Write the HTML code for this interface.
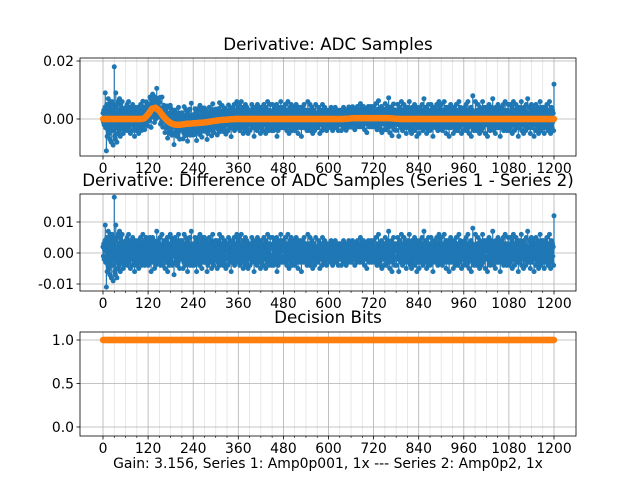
<!DOCTYPE html>
<html><head><meta charset="utf-8"><style>
body{margin:0;background:#fff}
svg{display:block;font-family:"DejaVu Sans","Liberation Sans",sans-serif}
</style></head><body>
<svg id="chart" width="640" height="480" viewBox="0 0 640 480" xmlns="http://www.w3.org/2000/svg">
<text x="328" y="50" font-size="16.7" text-anchor="middle">Derivative: ADC Samples</text>
<text x="328" y="186" font-size="16.7" text-anchor="middle">Derivative: Difference of ADC Samples (Series 1 - Series 2)</text>
<text x="328" y="323" font-size="16.7" text-anchor="middle">Decision Bits</text>
<text x="328" y="468" font-size="13.9" text-anchor="middle">Gain: 3.156, Series 1: Amp0p001, 1x --- Series 2: Amp0p2, 1x</text>
</svg>
<script>
// noise of ADC derivative (units 1e-3), one per sample
const noise = [
2,-1,3,-2,1,4,9,-3,2,-11,5,-6,3,-4,7,-2,-5,4,-7,6,-3,5,-8,2,6,-4,3,-9,5,-2,
18,-6,4,-7,9,-3,2,-8,5,-5,6,-2,3,-4,7,-3,-6,5,-2,4,-3,6,-1,3,-5,2,-4,3,-2,1,
-3,4,-2,1,5,-4,2,-3,6,-1,3,-2,4,-5,1,3,-2,2,-4,5,-1,3,-3,2,-6,4,-2,1,3,-4,
2,-3,4,-1,3,-5,2,4,-2,-3,5,-1,2,-4,3,-2,6,-3,1,-2,4,-4,2,-1,3,5,-3,-2,4,-1,
-4,3,-1,2,-3,5,-2,4,-6,1,3,-2,5,-3,2,-1,4,-5,2,3,-4,1,-2,7,-3,2,-1,4,-2,3,
3,-2,5,-4,1,-3,2,6,-1,-4,3,-2,4,-1,2,-5,3,1,-3,4,-2,5,-6,2,-1,3,-4,2,-3,6,
-2,5,-3,1,-4,2,3,-1,4,-7,2,-3,5,-1,3,-2,4,-4,1,2,-3,6,-2,3,-5,1,4,-2,3,-1,
4,-1,2,-5,3,-3,6,-2,1,-4,5,-2,3,-1,2,-6,4,-3,1,3,-2,5,-4,2,-1,7,-3,2,-4,1,
-1,3,-4,2,-2,5,-3,1,4,-6,2,-1,3,-3,5,-2,1,-4,6,-1,2,-3,4,-5,3,-2,1,5,-3,2,
5,-3,1,-2,4,-1,3,-6,2,-4,3,1,-2,5,-3,2,-1,4,-2,-5,3,-1,6,-3,2,-4,1,3,-2,4,
-2,4,-1,3,-5,2,-3,1,4,-2,6,-4,2,-1,3,-3,1,5,-2,2,-4,3,-1,-3,4,-2,2,-5,3,1,
3,-1,-4,2,5,-2,1,-3,4,-1,2,-6,3,-2,1,4,-3,2,-1,5,-4,1,3,-2,2,-3,6,-1,-2,4,
-3,2,5,-1,-4,3,-2,1,6,-3,2,-1,4,-5,2,-2,3,1,-4,5,-1,2,-3,4,-2,1,-5,3,-1,2,
1,-4,3,-2,2,-1,5,-3,-2,4,-1,3,-6,2,1,-3,4,-2,3,-1,-4,5,-2,2,-3,1,4,-1,3,-5,
4,-2,1,-3,3,-1,2,-4,5,-2,1,-1,3,-5,4,2,-2,-3,6,-1,2,-4,1,3,-2,5,-3,2,-1,-4,
-1,5,-2,3,-4,1,2,-3,4,-1,3,-2,5,-6,1,2,-4,3,-1,4,-3,2,-2,6,-1,-3,4,-2,1,3,
2,-3,4,-1,-2,5,-3,1,3,-4,2,-1,6,-2,3,-5,1,-1,4,-3,2,5,-2,-4,3,-1,2,-3,4,-2,
-4,2,-1,3,5,-2,1,-3,2,-5,4,-1,3,-2,1,4,-3,2,-6,3,-1,2,4,-2,-3,5,-1,3,-2,1,
3,-2,2,-4,1,6,-3,2,-1,3,-4,5,-2,1,-3,2,4,-1,-5,3,-2,1,3,-4,2,-1,5,-3,2,-2,
-1,2,-3,1,4,-2,3,-5,2,-1,3,-2,1,-4,5,-1,2,-3,3,-2,4,-1,-3,2,1,-4,3,-2,2,-1,
2,-1,3,-2,1,-3,2,4,-1,-2,3,-4,2,-1,3,-2,1,-3,4,-2,2,-1,-3,3,-1,2,-4,1,3,-2,
-2,3,-1,2,-4,1,3,-2,2,-1,4,-3,1,-2,3,-1,2,-4,1,3,-2,2,-1,-3,4,-2,1,3,-1,-2,
1,-3,2,-1,4,-2,3,-1,-2,2,-4,1,3,-2,1,-3,2,4,-1,-2,3,-1,2,-3,1,5,-2,-1,3,-2,
-3,2,-2,4,-1,1,-4,3,-2,2,-1,3,-5,1,2,-2,4,-1,3,-3,1,-2,2,4,-1,-3,2,-1,3,-2,
4,-2,1,-3,2,-1,5,-3,2,-4,1,3,-2,6,-1,-3,2,-4,3,1,-2,4,-5,2,-1,3,-2,1,-4,3,
-2,5,-1,3,-4,2,-3,1,4,-2,7,-3,1,-5,2,-1,3,-2,4,-6,1,2,-3,5,-1,3,-2,-4,2,1,
3,-4,2,-1,5,-2,1,-6,3,-2,4,-1,2,-3,6,-2,1,-4,3,-1,2,5,-3,-2,4,-1,3,-5,2,-1,
-1,4,-3,2,-2,6,-1,3,-4,1,2,-5,4,-2,1,3,-3,2,-1,5,-4,2,-2,3,1,-6,4,-1,2,-3,
2,-5,3,-1,4,-2,2,-3,1,5,-1,-4,3,-2,7,-1,2,-3,4,-2,1,-5,3,-1,2,-4,5,-2,1,-3,
-4,3,-2,5,-1,2,-3,4,-6,1,3,-2,2,-1,4,-3,1,-2,5,-1,3,-4,2,-2,6,-1,-3,4,-2,1,
5,-1,2,-4,3,-2,1,-3,6,-2,2,-1,4,-5,1,3,-2,4,-1,-3,2,-6,3,1,-2,5,-3,2,-1,4,
-2,3,-5,1,4,-1,2,-3,2,-4,5,-2,1,3,-1,-4,2,6,-3,1,-2,4,-1,3,-5,2,-2,1,3,-4,
1,-2,4,-3,2,-1,5,-4,3,-2,1,6,-3,2,-5,1,-1,3,-2,4,-6,2,-1,3,8,-3,2,-4,1,-2,
-3,6,-1,2,-4,3,-2,1,5,-3,2,-1,-5,4,-2,3,1,-4,2,-1,6,-3,2,-2,4,-1,3,-5,2,1,
4,-2,3,-6,1,-1,2,5,-3,2,-4,1,3,-2,4,-1,-3,7,-2,1,-4,3,-1,2,-5,4,-2,1,3,-3,
-1,5,-3,2,-2,4,-1,-6,3,1,-2,4,-3,2,-1,5,-4,3,-2,1,6,-1,-3,2,-4,3,-2,1,5,-1,
2,-4,1,-3,5,-2,3,-1,4,-5,2,-2,6,-1,3,-4,1,2,-3,5,-2,-1,4,-3,2,-6,3,1,-2,4,
-3,2,-1,6,-4,1,3,-2,2,-5,4,-1,3,-2,1,-4,5,-3,2,-1,7,-2,1,-3,4,-1,2,-5,3,-2,
5,-1,-3,2,4,-2,1,-6,3,-1,2,-4,5,-2,3,1,-3,4,-1,-5,2,3,-2,6,-1,-4,2,-3,4,1,
-2,4,-3,1,-5,3,2,-1,4,-2,-3,5,-1,2,-4,3,-2,1,6,-3,2,-5,1,4,-2,-3,3,-1,2,-4,
12
];
// slow orange series 2 derivative (units 1e-3), one value per 10 samples
const seriesTwo = [
0,0,0,0,0,0,0,0,0,0,0,0.2,1.6,3.5,3.9,2.8,1.0,-0.4,-1.4,-1.9,
-2.0,-1.9,-1.7,-1.6,-1.5,-1.4,-1.3,-1.2,-1.0,-0.8,-0.6,-0.4,-0.3,-0.2,-0.1,0,0,0,0,0,
0,0,0,0,0,0,0,0,0,0,0,0,0,0,0,0,0,0,0,0,
0,0,0,0,0,0.1,0.2,0.3,0.3,0.3,0.3,0.3,0.3,0.3,0.3,0.3,0.3,0.2,0.1,0,
0,0,0,0,0,0,0,0,0,0,0,0,0,0,0,0,0,0,0,0,
0,0,0,0,0,0,0,0,0,0,0,0,0,0,0,0,0,0,0,0,
0
];
// decision bits, one value per 10 samples
const bits = [
1,1,1,1,1,1,1,1,1,1,1,1,1,1,1,1,1,1,1,1,1,1,1,1,1,1,1,1,1,1,1,1,1,1,1,1,1,1,1,1,
1,1,1,1,1,1,1,1,1,1,1,1,1,1,1,1,1,1,1,1,1,1,1,1,1,1,1,1,1,1,1,1,1,1,1,1,1,1,1,1,
1,1,1,1,1,1,1,1,1,1,1,1,1,1,1,1,1,1,1,1,1,1,1,1,1,1,1,1,1,1,1,1,1,1,1,1,1,1,1,1,1
];
const xTicks = ["0","120","240","360","480","600","720","840","960","1080","1200"];
const y1Ticks = ["0.00","0.02"], y2Ticks = ["-0.01","0.00","0.01"], y3Ticks = ["0.0","0.5","1.0"];

const svg = document.getElementById('chart');
const NS = 'http://www.w3.org/2000/svg';
const X0 = 80, X1 = 576;
const xs = s => 103 + s * 451 / 1200;
const y1 = v => 119 - v * 2900;
const y2 = v => 253 - v * 3100;
const y3 = v => 427 - v * 87;
function mk(tag, attrs, parent) {
  const e = document.createElementNS(NS, tag);
  for (const k in attrs) e.setAttribute(k, attrs[k]);
  (parent || svg).appendChild(e);
  return e;
}
function s2(sample) {
  const p = sample / 10, i = Math.floor(p), f = p - i;
  const n = seriesTwo.length - 1;
  const a = seriesTwo[Math.min(i, n)], b = seriesTwo[Math.min(i + 1, n)];
  return a + (b - a) * f;
}
function axes(top, bot, yf, ticks, tickVals, name) {
  const g = mk('g', {});
  
  
  for (let s = 0; s <= 1200; s += 30) {
    const major = s % 120 === 0;
    mk('line', {x1: xs(s), x2: xs(s), y1: top, y2: bot, stroke: major ? '#b0b0b0' : '#e2e2e2', 'stroke-width': 0.8}, g);
    mk('line', {x1: xs(s), x2: xs(s), y1: bot, y2: bot + (major ? 3.5 : 2), stroke: '#000', 'stroke-width': major ? 0.8 : 0.6}, g);
  }
  xTicks.forEach(t => {
    const tx = mk('text', {x: xs(+t), y: bot + 17, 'font-size': 13.9, 'text-anchor': 'middle'}, g);
    tx.textContent = t;
    
    
  });
  ticks.forEach((t, i) => {
    const yy = yf(tickVals[i]);
    mk('line', {x1: X0, x2: X1, y1: yy, y2: yy, stroke: '#b0b0b0', 'stroke-width': 0.8}, g);
    mk('line', {x1: X0 - 3.5, x2: X0, y1: yy, y2: yy, stroke: '#000', 'stroke-width': 0.8}, g);
    const tx = mk('text', {x: X0 - 6, y: yy + 5, 'font-size': 13.9, 'text-anchor': 'end'}, g);
    tx.textContent = t;
    
    
  });
}
function frame(top, bot, name) {
  const r = mk('rect', {x: X0, y: top, width: X1 - X0, height: bot - top, fill: 'none', stroke: '#000', 'stroke-width': 0.8});
  
  
}
function stems(vals, step, yf, color, r, name, lines) {
  const g = mk('g', {});
  
  
  if (lines) {
    let d = '';
    vals.forEach((v, i) => { d += 'M' + xs(i * step).toFixed(2) + ' ' + yf(0).toFixed(2) + 'V' + yf(v).toFixed(2); });
    mk('path', {d: d, stroke: color, 'stroke-width': 1.2, fill: 'none'}, g);
  }
  vals.forEach((v, i) => {
    const c = mk('circle', {cx: xs(i * step), cy: yf(v), r: r, fill: color}, g);
    
    
  });
}
// Panel 1
axes(58, 156, y1, y1Ticks, [0, 0.02], 'adc-panel');
const blue1 = noise.map((v, i) => (v + s2(i)) / 1000);
stems(blue1, 1, y1, '#1f77b4', 2.5, 'series1-stems', true);
const ser2 = [];
for (let s = 0; s <= 1200; s += 2) ser2.push(s2(s) / 1000);
stems(ser2, 2, y1, '#ff7f0e', 3.2, 'series2-stems', false);
frame(58, 156, 'adc-panel');
// Panel 2
axes(194, 291, y2, y2Ticks, [-0.01, 0, 0.01], 'diff-panel');
stems(noise.map(v => v / 1000), 1, y2, '#1f77b4', 2.5, 'difference-stems', true);
frame(194, 291, 'diff-panel');
// Panel 3
axes(332, 436, y3, y3Ticks, [0, 0.5, 1], 'bits-panel');
const bitsFine = [];
for (let s = 0; s <= 1200; s += 2) bitsFine.push(bits[Math.floor(s / 10)]);
stems(bitsFine, 2, y3, '#ff7f0e', 3.2, 'decision-bit', false);
frame(332, 436, 'bits-panel');
</script>
</body></html>
